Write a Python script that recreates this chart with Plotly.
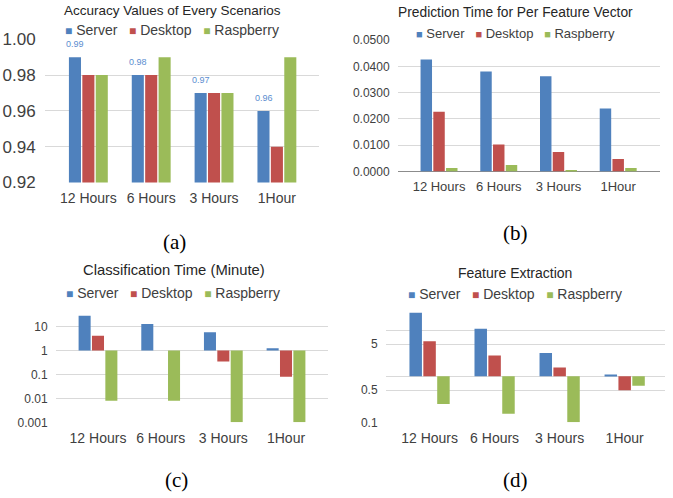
import plotly.graph_objects as go

# ---------------- data ----------------
categories = ["12 Hours", "6 Hours", "3 Hours", "1Hour"]
series_names = ["Server", "Desktop", "Raspberry"]
colors = ["#4F81BD", "#C0504D", "#9BBB59"]

# (a) Accuracy
accuracy_server = [0.99, 0.98, 0.97, 0.96]
accuracy_desktop = [0.98, 0.98, 0.97, 0.94]
accuracy_raspberry = [0.98, 0.99, 0.97, 0.99]
accuracy_ticks = [0.92, 0.94, 0.96, 0.98, 1.00]

# (b) Prediction time per feature vector
prediction_server = [0.0426, 0.0380, 0.0362, 0.0240]
prediction_desktop = [0.0227, 0.0103, 0.0074, 0.0048]
prediction_raspberry = [0.0013, 0.0025, 0.0005, 0.0013]
prediction_ticks = [0.0, 0.01, 0.02, 0.03, 0.04, 0.05]

# (c) Classification time (minute), log axis, bars from 1
classification_server = [28.5, 13.0, 5.8, 1.25]
classification_desktop = [4.2, 1.0, 0.35, 0.08]
classification_raspberry = [0.008, 0.008, 0.001, 0.001]
classification_ticks = [0.001, 0.01, 0.1, 1, 10]
classification_ticktext = ["0.001", "0.01", "0.1", "1", "10"]

# (d) Feature extraction, log axis, bars from 1
feature_server = [24.0, 10.8, 3.2, 1.09]
feature_desktop = [5.8, 2.85, 1.55, 0.5]
feature_raspberry = [0.25, 0.154, 0.1, 0.62]
feature_ticks = [0.1, 0.5, 1, 5, 10]
feature_ticktext = ["0.1", "0.5", "", "5", ""]

titles = ["Accuracy Values of Every Scenarios",
          "Prediction Time for Per Feature Vector",
          "Classification Time (Minute)",
          "Feature Extraction"]
captions = ["(a)", "(b)", "(c)", "(d)"]

FONT = "Liberation Sans, Arial, sans-serif"
TXT = "#404040"
GRID = "#D9D9D9"

fig = go.Figure()

panels = [
    ("x", "y", [accuracy_server, accuracy_desktop, accuracy_raspberry], None),
    ("x2", "y2", [prediction_server, prediction_desktop, prediction_raspberry], None),
    ("x3", "y3", [classification_server, classification_desktop, classification_raspberry], 1),
    ("x4", "y4", [feature_server, feature_desktop, feature_raspberry], 1),
]

for xa, ya, series, base in panels:
    for name, col, vals in zip(series_names, colors, series):
        if base is None:
            fig.add_trace(go.Bar(x=categories, y=vals, name=name, marker_color=col,
                                 marker_line_width=0, xaxis=xa, yaxis=ya, showlegend=False))
        else:
            fig.add_trace(go.Bar(x=categories, y=[v - base for v in vals], base=base,
                                 name=name, marker_color=col, marker_line_width=0,
                                 xaxis=xa, yaxis=ya, showlegend=False,
                                 customdata=vals, hovertemplate="%{customdata}<extra>" + name + "</extra>"))

# data labels for Server accuracy
for c, v in zip(categories, accuracy_server):
    fig.add_annotation(x=c, y=v, xref="x", yref="y", text=f"{v:.2f}", showarrow=False,
                       xshift=-13, yshift=6, yanchor="bottom",
                       font=dict(family=FONT, size=9, color="#5B8ED0"))

def xaxis(domain, rng, size, anchor):
    return dict(domain=domain, anchor=anchor, type="category", range=rng, showgrid=False,
                zeroline=False, showline=False, ticks="outside", ticklen=3,
                tickcolor="rgba(0,0,0,0)", automargin=False,
                tickfont=dict(family=FONT, size=size, color=TXT), fixedrange=True)

def yaxis(domain, anchor, **kw):
    d = dict(domain=domain, anchor=anchor, showgrid=True, gridcolor=GRID, gridwidth=1,
             zeroline=False, showline=False, ticks="outside", ticklen=5,
             tickcolor="rgba(0,0,0,0)", fixedrange=True, automargin=False)
    d.update(kw)
    return d

W, H = 673, 498

def fx(x):
    return x / W
def fy(y):
    return 1 - y / H
def px_x(a, b):
    return [fx(a), fx(b)]
def px_y(top, bottom):
    return [fy(bottom), fy(top)]

fig.update_layout(
    width=W, height=H, margin=dict(l=0, r=0, t=0, b=0, autoexpand=False),
    paper_bgcolor="white", plot_bgcolor="white",
    barmode="group", bargap=0.36, bargroupgap=0.1,
    xaxis=xaxis(px_x(45, 319), [-0.69, 3.67], 14, "y"),
    yaxis=yaxis(px_y(39.3, 182.5), "x", range=[0.92, 1.0], tickvals=accuracy_ticks,
                tickformat=".2f", tickfont=dict(family=FONT, size=17, color=TXT)),
    xaxis2=xaxis(px_x(398, 660), [-0.687, 3.70], 13, "y2"),
    yaxis2=yaxis(px_y(40, 171.5), "x2", range=[0, 0.05], tickvals=prediction_ticks,
                 tickformat=".4f", zeroline=True, zerolinecolor="#8C8C8C", zerolinewidth=1,
                 tickfont=dict(family=FONT, size=12, color=TXT)),
    xaxis3=xaxis(px_x(56, 328), [-0.67, 3.67], 14, "y3"),
    yaxis3=yaxis(px_y(312.3, 422.3), "x3", type="log", range=[-3, 1.6],
                 tickvals=classification_ticks, ticktext=classification_ticktext,
                 tickfont=dict(family=FONT, size=12, color=TXT)),
    xaxis4=xaxis(px_x(386, 665), [-0.67, 3.62], 14, "y4"),
    yaxis4=yaxis(px_y(308.4, 422.3), "x4", type="log", range=[-1, 1.477],
                 tickvals=feature_ticks, ticktext=feature_ticktext,
                 tickfont=dict(family=FONT, size=12, color=TXT)),
)

# titles, legends, captions (positions in window pixels)
title_pos = [(173, 10, 13.5), (515, 13, 13.8), (174, 270, 14.8), (515, 273, 14)]
legend_pos = [(172, 30, 14), (515, 34, 13), (173, 293, 14), (515, 294, 14)]
caption_pos = [(174, 242), (515, 233), (176, 480), (515, 480)]

for t, (x, y, s) in zip(titles, title_pos):
    fig.add_annotation(x=fx(x), y=fy(y), xref="paper", yref="paper", text=t,
                       showarrow=False, xanchor="center", yanchor="middle",
                       font=dict(family=FONT, size=s, color="#262626"))

for (x, y, s) in legend_pos:
    parts = []
    for name, col in zip(series_names, colors):
        parts.append(f'<span style="color:{col};font-size:{s - 2}px">\u25A0</span>\u00a0{name}')
    text = "\u00a0\u00a0\u00a0".join(parts)
    fig.add_annotation(x=fx(x), y=fy(y), xref="paper", yref="paper", text=text,
                       showarrow=False, xanchor="center", yanchor="middle",
                       font=dict(family=FONT, size=s, color=TXT))

for c, (x, y) in zip(captions, caption_pos):
    fig.add_annotation(x=fx(x), y=fy(y), xref="paper", yref="paper", text=c,
                       showarrow=False, xanchor="center", yanchor="middle",
                       font=dict(family="Liberation Serif, Times New Roman, serif", size=21,
                                 color="black"))

# remove the default 8px page margin so the 673x498 figure fills the window exactly
fig.write_html("out.html",
               config={"displayModeBar": False},
               post_script="document.body.style.margin='0';document.body.style.overflow='hidden';")
